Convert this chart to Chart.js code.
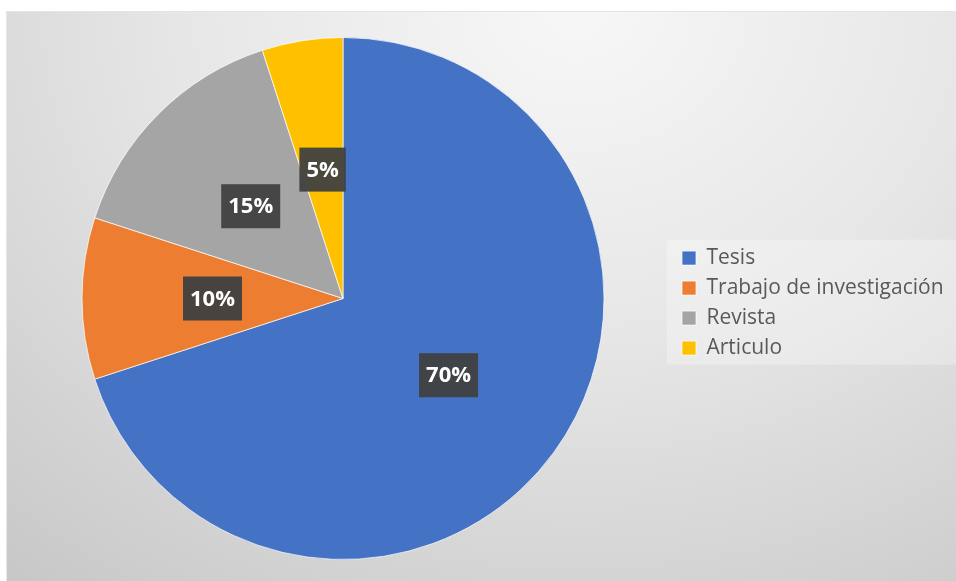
<!DOCTYPE html>
<html>
<head>
<meta charset="utf-8">
<script src="https://cdn.jsdelivr.net/npm/chart.js@4.4.1/dist/chart.umd.min.js"></script>
<style>
  html, body { margin: 0; padding: 0; background: #ffffff; }
  #wrap {
    position: absolute; left: 6px; top: 11px; width: 950px; height: 570px;
    background: radial-gradient(ellipse 95% 130% at 60% 0%, #f7f7f7 0%, #e6e6e6 45%, #c7c7c7 100%);
    border-left: 1px solid #e8e8e8; border-top: 1px solid #e4e4e4;
    box-sizing: border-box;
  }
  #chart { display: block; }
</style>
</head>
<body>
<div id="wrap"><canvas id="chart" width="949" height="569"></canvas></div>
<script>
// Data
const categories = ['Tesis', 'Trabajo de investigación', 'Revista', 'Articulo'];
const shares = [70, 10, 15, 5];
const sliceColors = ['#4472c4', '#ed7d31', '#a5a5a5', '#ffc000'];

const legendFont = { family: "'Open Sans', sans-serif", size: 21 };
const labelFont = "bold 22px 'Open Sans', sans-serif";

// measure the longest legend entry so the legend lands where it should
function legendWidth() {
    const c = document.createElement('canvas').getContext('2d');
    c.font = legendFont.size + 'px ' + legendFont.family;
    let w = 0;
    categories.forEach(t => { w = Math.max(w, c.measureText(t).width); });
    return 14 + legendFont.size / 2 + w + 20;
}
const legendLeft = 665;
const rightPad = Math.max(0, 949 - legendLeft - legendWidth());

// legend backdrop
const legendBack = {
    id: 'legendBack',
    beforeDraw(chart) {
        const lg = chart.legend;
        if (!lg || !lg.legendHitBoxes.length) return;
        const boxes = lg.legendHitBoxes;
        const top = boxes[0].top - 8;
        const bottom = boxes[boxes.length - 1].top + boxes[boxes.length - 1].height + 6;
        const ctx = chart.ctx;
        ctx.save();
        ctx.fillStyle = 'rgba(255,255,255,0.28)';
        ctx.fillRect(lg.left - 6, top, chart.width - lg.left + 6, bottom - top);
        ctx.restore();
    }
};

// percentage labels in dark boxes
const pctLabels = {
    id: 'pctLabels',
    afterDatasetsDraw(chart) {
        const ctx = chart.ctx;
        const meta = chart.getDatasetMeta(0);
        const total = shares.reduce((a, b) => a + b, 0);
        ctx.save();
        ctx.font = labelFont;
        ctx.textAlign = 'center';
        ctx.textBaseline = 'middle';
        meta.data.forEach((arc, i) => {
            const p = arc.getProps(['x', 'y', 'startAngle', 'endAngle', 'outerRadius'], true);
            const mid = (p.startAngle + p.endAngle) / 2;
            const r = p.outerRadius * 0.5;
            const x = p.x + Math.cos(mid) * r;
            const y = p.y + Math.sin(mid) * r;
            const txt = Math.round(shares[i] / total * 100) + '%';
            const w = ctx.measureText(txt).width + 14;
            const h = 44;
            ctx.fillStyle = 'rgba(64,64,64,0.95)';
            ctx.fillRect(x - w / 2, y - h / 2, w, h);
            ctx.fillStyle = '#ffffff';
            ctx.fillText(txt, x, y + 1);
        });
        ctx.restore();
    }
};

new Chart(document.getElementById('chart'), {
    type: 'pie',
    data: {
        labels: categories,
        datasets: [{
            data: shares,
            backgroundColor: sliceColors,
            borderColor: 'rgba(255,255,255,0.7)',
            borderWidth: 1
        }]
    },
    options: {
        responsive: false,
        animation: false,
        layout: { padding: { top: 25, bottom: 21, left: 6, right: rightPad } },
        plugins: {
            tooltip: { enabled: false },
            legend: {
                position: 'right',
                // empty title only nudges the entries down a little
                title: { display: true, text: '', font: { size: 1 }, padding: { top: 4, bottom: 4 } },
                labels: {
                    boxWidth: 14,
                    boxHeight: 14,
                    padding: 9,
                    color: '#595959',
                    font: legendFont
                }
            }
        }
    },
    plugins: [legendBack, pctLabels]
});
</script>
</body>
</html>
